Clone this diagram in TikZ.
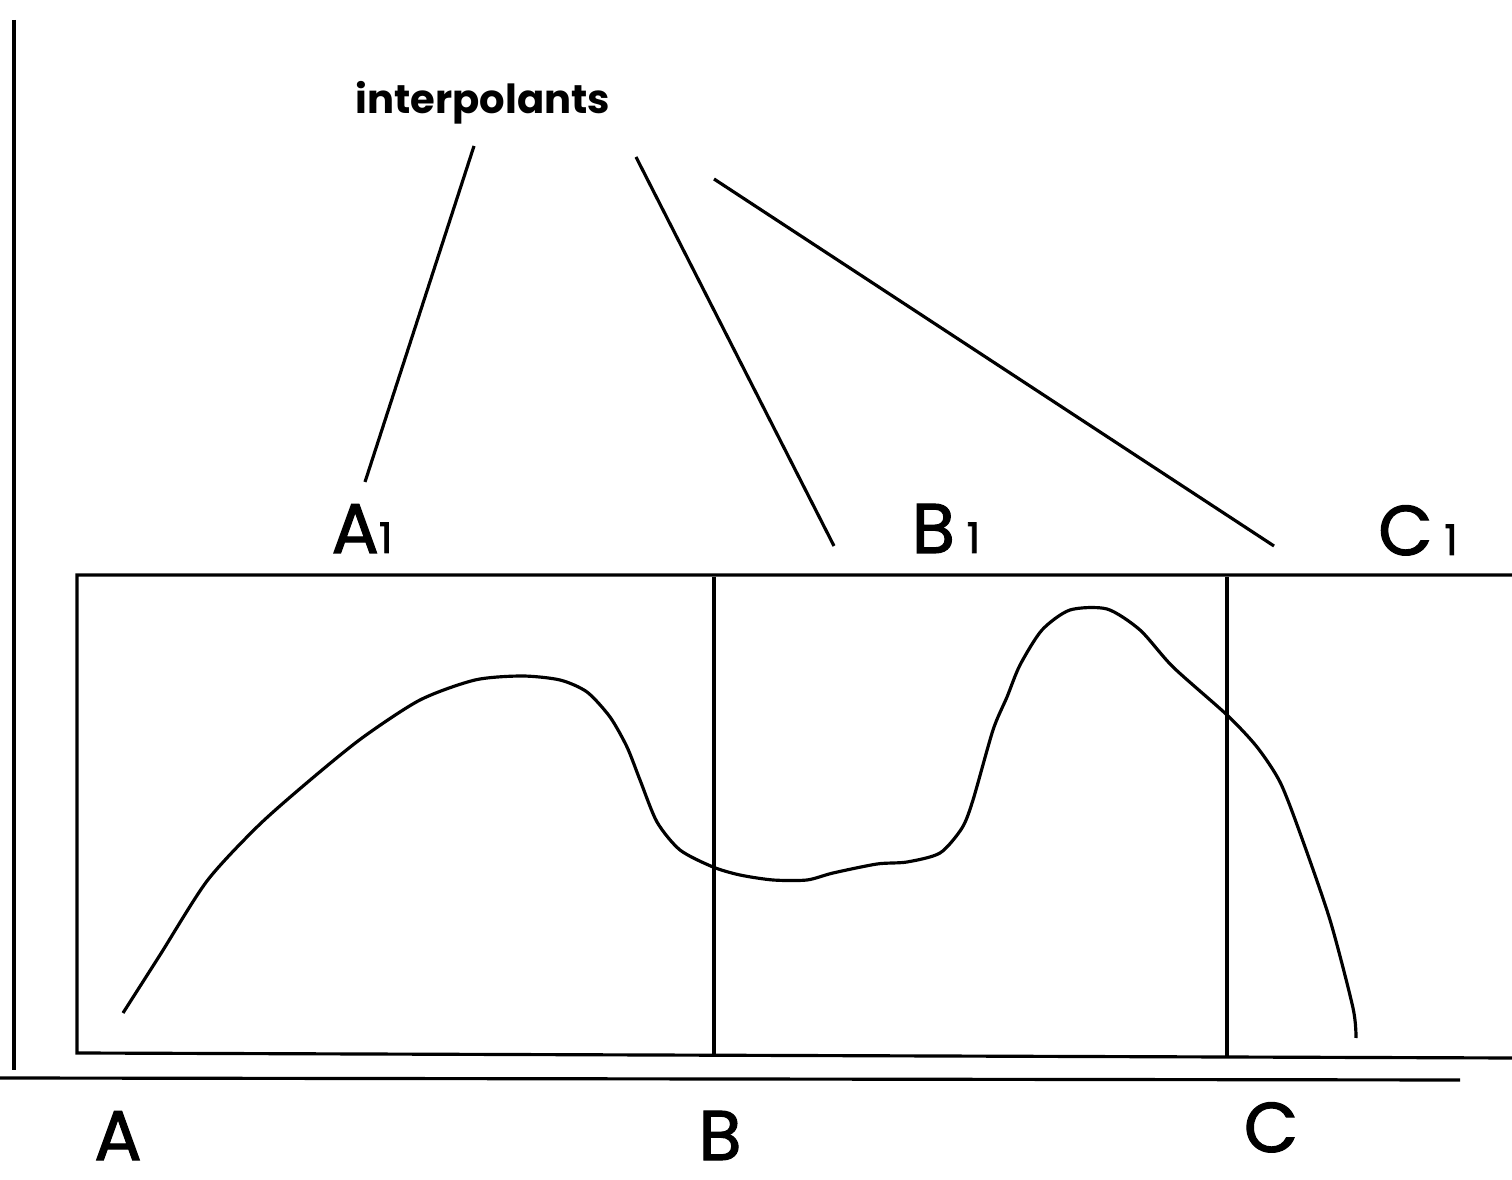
\documentclass[tikz,border=0pt]{standalone}
\usepackage{fontspec}
\setmainfont{Poppins}
\newfontfamily\heavy{Poppins}[FakeBold=1.6]
\newcommand{\idx}[1]{{\fontsize{12}{12}\selectfont #1}}
\begin{document}
\begin{tikzpicture}[x=0.01cm, y=-0.01cm, line width=0.9pt,
                    lbl/.style={font=\heavy\fontsize{20}{20}\selectfont, anchor=base, inner sep=0pt},
                    title/.style={font=\fontsize{11.4}{11.4}\selectfont\bfseries, anchor=base, inner sep=0pt}]
                    \useasboundingbox (0,0) rectangle (1512,1180);

                    % Achsen
                    \draw (14,20) -- (14,1070);
                    \draw (0,1078) -- (1460,1080);

                    % Rahmen und Teilintervalle
                    \draw (1512,575) -- (77,575) -- (77,1053) -- (1512,1058);
                    \draw (714,577) -- (714,1057);
                    \draw (1227,577) -- (1227,1058);

                    % Beschriftungen
                    \node[lbl] (A) at (118,1160) {A};
                    \node[lbl] (B) at (720,1160) {B};
                    \node[lbl] (C) at (1271,1152) {C};
                    \node[lbl] (A1) at (362,553) {A\idx{1}};
                    \node[lbl] (B1) at (946,553) {B\,\idx{1}};
                    \node[lbl] (C1) at (1418,555) {C\,\idx{1}};
                    \node[title] (ip) at (483,114) {interpolants};

                    % Verbindungslinien
                    \coordinate (ipa) at (474,146);
                    \coordinate (ipb) at (636,157);
                    \coordinate (ipc) at (714,179);
                    \coordinate (ea) at (365,482);
                    \coordinate (eb) at (834,546);
                    \coordinate (ec) at (1274,546);
                    \draw (ipa) -- (ea);
                    \draw (ipb) -- (eb);
                    \draw (ipc) -- (ec);

                    % Funktion
                    \draw plot[smooth, tension=0.45] coordinates {(123,1013) (160,955) (207,881) (258,826)
                        (309,781) (362,738) (420,700) (475,680) (522,676) (560,680) (587,692) (610,717)
                        (627,747) (640,780) (657,822) (680,850) (713,867) (740,875) (773,880) (807,880)
                        (833,873) (877,864) (907,862) (940,853) (962,828) (973,800) (993,730) (1007,697)
                        (1020,665) (1042,630) (1070,610) (1107,609) (1140,630) (1173,667) (1227,715)
                        (1257,747) (1280,782) (1300,833) (1330,920) (1353,1008) (1356,1038)};
                \end{tikzpicture}
\end{document}
